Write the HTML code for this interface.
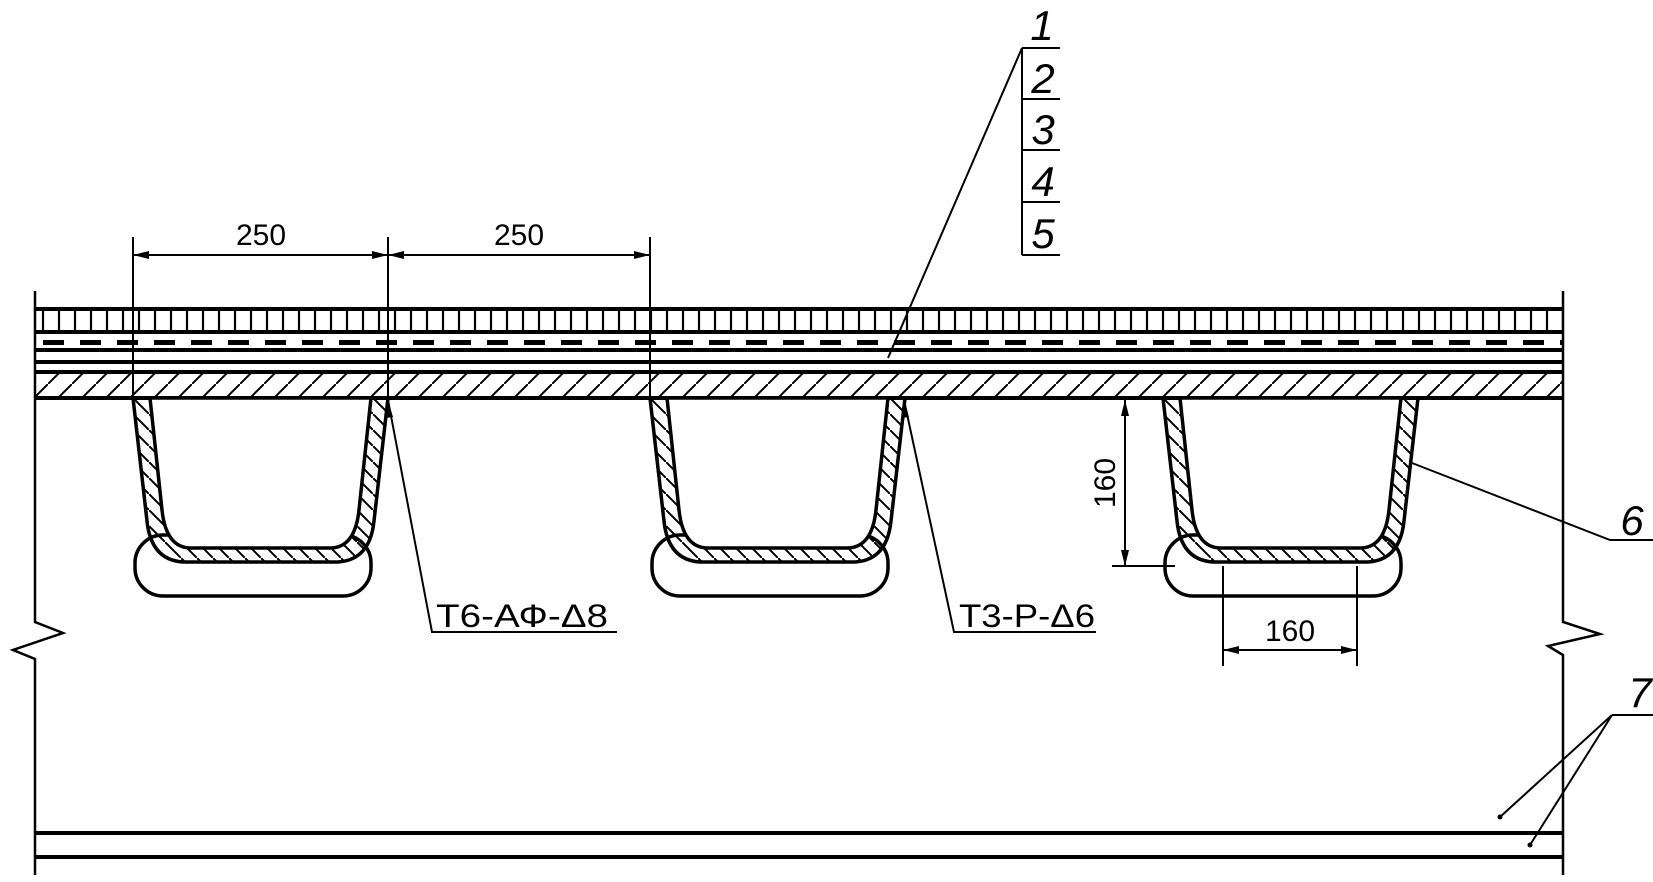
<!DOCTYPE html>
<html><head><meta charset="utf-8"><style>html,body{margin:0;padding:0;background:#fff}svg{display:block}</style></head>
<body>
<svg width="1653" height="882" viewBox="0 0 1653 882" xmlns="http://www.w3.org/2000/svg" font-family="Liberation Sans, sans-serif">
<defs>
<pattern id="h1" patternUnits="userSpaceOnUse" width="24" height="24"><path d="M-2,26 L26,-2" stroke="#000" stroke-width="2"/></pattern>
<pattern id="h2" patternUnits="userSpaceOnUse" width="16" height="16"><path d="M-2,-2 L18,18" stroke="#000" stroke-width="2"/></pattern>
<pattern id="tk" patternUnits="userSpaceOnUse" x="35" width="16" height="30"><line x1="8" y1="0" x2="8" y2="30" stroke="#000" stroke-width="2.2"/></pattern>
<pattern id="ds" patternUnits="userSpaceOnUse" x="43" width="37" height="10"><rect x="0" y="0" width="21" height="5" fill="#000"/></pattern>
<g id="tr">
<rect x="2" y="137" width="236" height="61" rx="28" fill="#fff" stroke="#000" stroke-width="3.5"/>
<path d="M0,0 L14,123 Q18,162 50,164 L205,164 Q237,162 241,123 L255,0 Z" fill="url(#h2)" stroke="#000" stroke-width="3.5"/>
<path d="M17,0 L29,112 Q33,150 58,150 L197,150 Q222,150 226,112 L238,0 Z" fill="#fff" stroke="#000" stroke-width="3.5"/>
</g>
</defs>
<g stroke="#000" fill="none">
<path d="M35,291 L35,622 L63,633 L13,650 L35,659 L35,875" stroke-width="2.5"/>
<path d="M1563,291 L1563,622 L1600,634 L1548,646 L1563,655 L1563,875" stroke-width="2.5"/>
<rect x="35" y="308" width="1528" height="24" fill="url(#tk)" stroke="none"/>
<rect x="35" y="340" width="1528" height="5" fill="url(#ds)" stroke="none"/>
<rect x="35" y="372" width="1528" height="26" fill="url(#h1)" stroke="none"/>
<g stroke-width="4">
<line x1="35" y1="309" x2="1563" y2="309"/>
<line x1="35" y1="332" x2="1563" y2="332"/>
<line x1="35" y1="350" x2="1563" y2="350"/>
<line x1="35" y1="362" x2="1563" y2="362"/>
<line x1="35" y1="372" x2="1563" y2="372"/>
<line x1="35" y1="398" x2="1563" y2="398"/>
<line x1="35" y1="833" x2="1563" y2="833"/>
<line x1="35" y1="857" x2="1563" y2="857"/>
</g>
</g>
<use href="#tr" x="133" y="398"/>
<use href="#tr" x="650" y="398"/>
<use href="#tr" x="1163" y="398"/>
<g stroke="#000" fill="none" stroke-width="2">
<line x1="133" y1="237" x2="133" y2="405"/>
<line x1="388" y1="237" x2="388" y2="400"/>
<line x1="650" y1="237" x2="650" y2="400"/>
<line x1="133" y1="255" x2="650" y2="255"/>
<line x1="1022" y1="48" x2="1022" y2="255"/>
<line x1="1022" y1="48" x2="1060" y2="48"/>
<line x1="1022" y1="99" x2="1060" y2="99"/>
<line x1="1022" y1="150" x2="1060" y2="150"/>
<line x1="1022" y1="202" x2="1060" y2="202"/>
<line x1="1022" y1="255" x2="1060" y2="255"/>
<line x1="1022" y1="48" x2="888" y2="358"/>
<polyline points="388,400 432,632 617,632"/>
<polyline points="904,400 954,632 1096,632"/>
<line x1="1125" y1="400" x2="1125" y2="566"/>
<line x1="1112" y1="566" x2="1175" y2="566"/>
<line x1="1223" y1="566" x2="1223" y2="666"/>
<line x1="1357" y1="566" x2="1357" y2="666"/>
<line x1="1223" y1="650" x2="1357" y2="650"/>
<polyline points="1412,463 1610,540 1653,540"/>
<line x1="1612" y1="715" x2="1653" y2="715"/>
<line x1="1612" y1="715" x2="1500" y2="817"/>
<line x1="1612" y1="715" x2="1530" y2="845"/>
</g>
<g fill="#000">
<path d="M133,255 l16,-4 v8z M388,255 l-16,-4 v8z M388,255 l16,-4 v8z M650,255 l-16,-4 v8z"/>
<path d="M388,400 l-2,18 l7,-1z M904,400 l-2,18 l7,-1z"/>
<path d="M1125,400 l-4,16 h8z M1125,566 l-4,-16 h8z"/>
<path d="M1223,650 l16,-4 v8z M1357,650 l-16,-4 v8z"/>
<circle cx="1500" cy="817" r="2.5"/><circle cx="1530" cy="845" r="2.5"/>
</g>
<g font-size="30" fill="#000" text-anchor="middle">
<text x="261" y="245">250</text>
<text x="519" y="245">250</text>
<text x="1290" y="641">160</text>
<text transform="translate(1115,483) rotate(-90)">160</text>
<text x="522" y="627" font-size="32" textLength="172" lengthAdjust="spacingAndGlyphs">Т6-АФ-Δ8</text>
<text x="1027" y="627" font-size="32" textLength="136" lengthAdjust="spacingAndGlyphs">Т3-Р-Δ6</text>
</g>
<g font-size="42" font-style="italic" fill="#000" text-anchor="middle">
<text x="1042" y="40">1</text>
<text x="1043" y="93">2</text>
<text x="1043" y="144">3</text>
<text x="1043" y="196">4</text>
<text x="1043" y="248">5</text>
<text x="1632" y="535">6</text>
<text x="1640" y="707">7</text>
</g>
</svg>
</body></html>
